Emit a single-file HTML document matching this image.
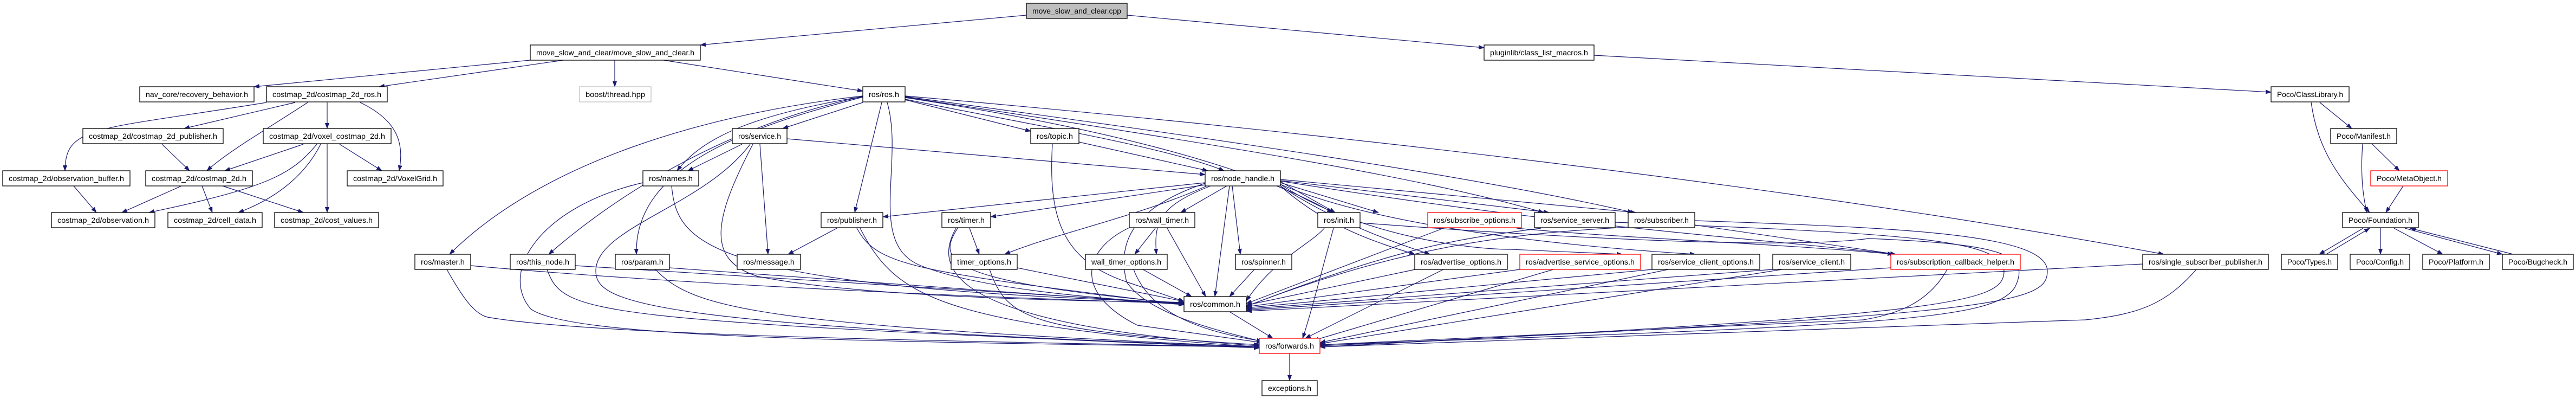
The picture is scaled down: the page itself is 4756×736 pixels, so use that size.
<!DOCTYPE html>
<html><head><meta charset="utf-8"><style>
html,body{margin:0;padding:0;background:#fff;width:4756px;height:736px;overflow:hidden}
svg{display:block}
text{font-family:"Liberation Sans",sans-serif;font-size:14px;fill:#000;text-anchor:middle}
.n{fill:#fff;stroke:#000;stroke-width:1.3}
.r{fill:#fff;stroke:#ff0000;stroke-width:1.3}
.e path{fill:none;stroke:#191970;stroke-width:1.2}
</style></head><body>
<svg width="4756" height="736" viewBox="0 0 4756 736" xmlns="http://www.w3.org/2000/svg">
<defs><marker id="a" markerUnits="userSpaceOnUse" markerWidth="11" markerHeight="8" refX="10" refY="4" orient="auto"><path d="M0,0 L11,4 L0,8 z" fill="#191970"/></marker></defs>
<g class="e" marker-end="url(#a)">
<path marker-end="url(#a)" d="M1895,28 L1293,83"/>
<path marker-end="url(#a)" d="M2081,28 L2740,88"/>
<path marker-end="url(#a)" d="M979,111 L469,160"/>
<path marker-end="url(#a)" d="M1040,111 L700,160"/>
<path marker-end="url(#a)" d="M1135,111 L1135,160"/>
<path marker-end="url(#a)" d="M1225,111 L1593,168"/>
<path marker-end="url(#a)" d="M2943,102 L4193,170"/>
<path marker-end="url(#a)" d="M492,189 C180,240 120,230 120,315"/>
<path marker-end="url(#a)" d="M545,189 L340,237"/>
<path marker-end="url(#a)" d="M568,189 C490,240 420,280 382,315"/>
<path marker-end="url(#a)" d="M604,189 L604,237"/>
<path marker-end="url(#a)" d="M665,189 C740,225 745,270 737,315"/>
<path marker-end="url(#a)" d="M299,266 L350,315"/>
<path marker-end="url(#a)" d="M560,266 L415,315"/>
<path marker-end="url(#a)" d="M585,266 C540,320 500,345 275,392"/>
<path marker-end="url(#a)" d="M592,266 C560,330 500,370 440,392"/>
<path marker-end="url(#a)" d="M604,266 L604,392"/>
<path marker-end="url(#a)" d="M627,266 L705,315"/>
<path marker-end="url(#a)" d="M136,343 L178,392"/>
<path marker-end="url(#a)" d="M335,343 L225,392"/>
<path marker-end="url(#a)" d="M373,343 L392,392"/>
<path marker-end="url(#a)" d="M411,343 L560,392"/>
<path marker-end="url(#a)" d="M1593,177 C1300,210 1000,300 830,469"/>
<path marker-end="url(#a)" d="M1593,178 C1350,230 1150,350 1013,469"/>
<path marker-end="url(#a)" d="M1593,179 C1400,230 1170,300 1175,469"/>
<path marker-end="url(#a)" d="M1593,178 C1400,210 1300,250 1250,315"/>
<path marker-end="url(#a)" d="M1593,189 L1445,237"/>
<path marker-end="url(#a)" d="M1628,189 L1578,392"/>
<path marker-end="url(#a)" d="M1638,189 C1670,300 1600,450 1700,490 C1800,530 2000,550 2186,560"/>
<path marker-end="url(#a)" d="M1671,184 L1903,242"/>
<path marker-end="url(#a)" d="M1671,183 C1900,230 2150,270 2260,315"/>
<path marker-end="url(#a)" d="M1671,180 C2000,230 2300,300 2460,392"/>
<path marker-end="url(#a)" d="M1671,179 C2200,260 2600,320 2850,392"/>
<path marker-end="url(#a)" d="M1671,178 C2200,250 2700,320 3015,392"/>
<path marker-end="url(#a)" d="M1671,177 C2400,240 3300,340 3995,469"/>
<path marker-end="url(#a)" d="M1370,266 L1270,315"/>
<path marker-end="url(#a)" d="M1453,256 L2225,322"/>
<path marker-end="url(#a)" d="M1403,266 L1418,469"/>
<path marker-end="url(#a)" d="M1390,266 C1320,400 1300,480 1400,510 C1600,550 2000,555 2186,558"/>
<path marker-end="url(#a)" d="M1385,266 C1300,380 1100,420 1100,500 C1100,560 1200,600 2325,640"/>
<path marker-end="url(#a)" d="M1240,343 C1250,450 1300,530 2186,558"/>
<path marker-end="url(#a)" d="M1187,337 C1000,380 920,500 980,570 C1050,620 1500,630 2325,640"/>
<path marker-end="url(#a)" d="M869,490 C1200,520 1700,545 2186,560"/>
<path marker-end="url(#a)" d="M825,497 C860,560 880,580 900,585 C1100,620 1800,630 2325,640"/>
<path marker-end="url(#a)" d="M1062,490 L2186,560"/>
<path marker-end="url(#a)" d="M1010,497 C1040,580 1080,590 2325,642"/>
<path marker-end="url(#a)" d="M1236,494 L2186,562"/>
<path marker-end="url(#a)" d="M1210,497 C1280,570 1400,600 2325,640"/>
<path marker-end="url(#a)" d="M1992,262 L2230,315"/>
<path marker-end="url(#a)" d="M1943,266 C1935,400 1960,480 2080,520 L2186,556"/>
<path marker-end="url(#a)" d="M2225,337 L1630,400"/>
<path marker-end="url(#a)" d="M2225,341 L1829,400"/>
<path marker-end="url(#a)" d="M2228,343 C2100,400 1950,430 1855,469"/>
<path marker-end="url(#a)" d="M2235,343 C2140,380 2130,410 2135,469"/>
<path marker-end="url(#a)" d="M2265,343 L2180,392"/>
<path marker-end="url(#a)" d="M2270,343 L2243,547"/>
<path marker-end="url(#a)" d="M2275,343 L2290,469"/>
<path marker-end="url(#a)" d="M2364,335 L2465,392"/>
<path marker-end="url(#a)" d="M2364,337 L2545,392"/>
<path marker-end="url(#a)" d="M2364,333 L2860,392"/>
<path marker-end="url(#a)" d="M2364,331 L3020,392"/>
<path marker-end="url(#a)" d="M2364,343 C2450,420 2550,450 2612,469"/>
<path marker-end="url(#a)" d="M2364,343 C2450,400 2550,440 2640,469"/>
<path marker-end="url(#a)" d="M2364,340 C2500,430 2700,460 2790,460 L2995,469"/>
<path marker-end="url(#a)" d="M2364,340 C2550,420 2900,455 3130,469"/>
<path marker-end="url(#a)" d="M2364,334 C2900,420 3250,440 3500,469"/>
<path marker-end="url(#a)" d="M2225,338 C2100,380 2060,440 2080,520 C2120,580 2250,610 2330,630"/>
<path marker-end="url(#a)" d="M1545,421 L1455,469"/>
<path marker-end="url(#a)" d="M1582,421 C1620,490 1680,500 2186,562"/>
<path marker-end="url(#a)" d="M1588,421 C1650,540 1720,600 2325,640"/>
<path marker-end="url(#a)" d="M1790,421 L1808,469"/>
<path marker-end="url(#a)" d="M1768,421 C1730,480 1740,520 2186,560"/>
<path marker-end="url(#a)" d="M1765,421 C1720,500 1760,600 2325,638"/>
<path marker-end="url(#a)" d="M2133,421 L2095,469"/>
<path marker-end="url(#a)" d="M2155,421 L2226,547"/>
<path marker-end="url(#a)" d="M2085,420 C2000,460 1980,540 2100,600 L2330,632"/>
<path marker-end="url(#a)" d="M1878,494 L2186,556"/>
<path marker-end="url(#a)" d="M1827,497 C1860,590 1900,610 2325,636"/>
<path marker-end="url(#a)" d="M2110,497 L2200,547"/>
<path marker-end="url(#a)" d="M2093,497 C2120,570 2200,610 2335,630"/>
<path marker-end="url(#a)" d="M2316,497 L2270,547"/>
<path marker-end="url(#a)" d="M2270,575 L2350,624"/>
<path marker-end="url(#a)" d="M2381,652 L2381,702"/>
<path marker-end="url(#a)" d="M2445,421 C2420,450 2350,480 2301,555"/>
<path marker-end="url(#a)" d="M2462,421 C2440,500 2420,580 2405,624"/>
<path marker-end="url(#a)" d="M2511,411 C2900,440 3300,460 3450,440 C3700,450 3750,470 3720,530 C3680,590 3500,600 2437,636"/>
<path marker-end="url(#a)" d="M2665,421 L2301,560"/>
<path marker-end="url(#a)" d="M2800,421 C3000,440 3300,450 3495,469"/>
<path marker-end="url(#a)" d="M2845,421 C2700,440 2600,450 2301,565"/>
<path marker-end="url(#a)" d="M2982,410 C3500,430 3700,440 3700,500 C3700,560 3600,580 2437,640"/>
<path marker-end="url(#a)" d="M3006,419 C2800,430 2600,450 2301,565"/>
<path marker-end="url(#a)" d="M3129,415 L3500,469"/>
<path marker-end="url(#a)" d="M3129,407 C3500,420 3780,430 3780,500 C3780,560 3700,580 2437,638"/>
<path marker-end="url(#a)" d="M2613,497 L2301,563"/>
<path marker-end="url(#a)" d="M2665,497 L2410,624"/>
<path marker-end="url(#a)" d="M2806,497 L2301,566"/>
<path marker-end="url(#a)" d="M2868,497 L2425,628"/>
<path marker-end="url(#a)" d="M3050,497 L2301,568"/>
<path marker-end="url(#a)" d="M3080,497 L2437,632"/>
<path marker-end="url(#a)" d="M3273,497 L2301,570"/>
<path marker-end="url(#a)" d="M3290,497 L2437,634"/>
<path marker-end="url(#a)" d="M3491,494 L2301,572"/>
<path marker-end="url(#a)" d="M3595,497 C3560,560 3500,580 3440,590 L2437,636"/>
<path marker-end="url(#a)" d="M3956,487 L2301,574"/>
<path marker-end="url(#a)" d="M4055,497 C4000,560 3950,580 3850,590 L2437,640"/>
<path marker-end="url(#a)" d="M4283,189 L4342,237"/>
<path marker-end="url(#a)" d="M4267,189 C4280,280 4320,330 4375,392"/>
<path marker-end="url(#a)" d="M4362,266 C4358,320 4362,360 4370,392"/>
<path marker-end="url(#a)" d="M4380,266 L4430,315"/>
<path marker-end="url(#a)" d="M4437,343 L4405,392"/>
<path marker-end="url(#a)" d="M4363,421 L4282,469"/>
<path marker-end="url(#a)" d="M4295,469 L4375,421"/>
<path marker-end="url(#a)" d="M4395,421 L4395,469"/>
<path marker-end="url(#a)" d="M4420,421 L4510,469"/>
<path marker-end="url(#a)" d="M4440,421 L4620,469"/>
<path marker-end="url(#a)" d="M4640,469 L4450,421"/>
</g>
<g>
<rect x="1895" y="6" width="186" height="28" fill="#bfbfbf" stroke="#000" stroke-width="1.3"/><text x="1988" y="25" textLength="164" lengthAdjust="spacingAndGlyphs">move_slow_and_clear.cpp</text>
<rect class="n" x="979" y="83" width="314" height="28"/><text x="1136" y="102" textLength="292" lengthAdjust="spacingAndGlyphs">move_slow_and_clear/move_slow_and_clear.h</text>
<rect class="n" x="2740" y="83" width="203" height="28"/><text x="2841.5" y="102" textLength="181" lengthAdjust="spacingAndGlyphs">pluginlib/class_list_macros.h</text>
<rect class="n" x="258" y="160" width="211" height="28"/><text x="363.5" y="179" textLength="189" lengthAdjust="spacingAndGlyphs">nav_core/recovery_behavior.h</text>
<rect class="n" x="492" y="160" width="223" height="28"/><text x="603.5" y="179" textLength="201" lengthAdjust="spacingAndGlyphs">costmap_2d/costmap_2d_ros.h</text>
<rect x="1070" y="160" width="132" height="28" fill="#fff" stroke="#bfbfbf" stroke-width="1.3"/><text x="1136" y="179" textLength="110" lengthAdjust="spacingAndGlyphs">boost/thread.hpp</text>
<rect class="n" x="1593" y="160" width="78" height="28"/><text x="1632" y="179" textLength="56" lengthAdjust="spacingAndGlyphs">ros/ros.h</text>
<rect class="n" x="4193" y="160" width="144" height="28"/><text x="4265" y="179" textLength="122" lengthAdjust="spacingAndGlyphs">Poco/ClassLibrary.h</text>
<rect class="n" x="153" y="237" width="259" height="28"/><text x="282.5" y="256" textLength="237" lengthAdjust="spacingAndGlyphs">costmap_2d/costmap_2d_publisher.h</text>
<rect class="n" x="486" y="237" width="236" height="28"/><text x="604" y="256" textLength="214" lengthAdjust="spacingAndGlyphs">costmap_2d/voxel_costmap_2d.h</text>
<rect class="n" x="1352" y="237" width="101" height="28"/><text x="1402.5" y="256" textLength="79" lengthAdjust="spacingAndGlyphs">ros/service.h</text>
<rect class="n" x="1903" y="237" width="89" height="28"/><text x="1947.5" y="256" textLength="67" lengthAdjust="spacingAndGlyphs">ros/topic.h</text>
<rect class="n" x="4303" y="237" width="122" height="28"/><text x="4364" y="256" textLength="100" lengthAdjust="spacingAndGlyphs">Poco/Manifest.h</text>
<rect class="n" x="5" y="315" width="235" height="28"/><text x="122.5" y="334" textLength="213" lengthAdjust="spacingAndGlyphs">costmap_2d/observation_buffer.h</text>
<rect class="n" x="269" y="315" width="197" height="28"/><text x="367.5" y="334" textLength="175" lengthAdjust="spacingAndGlyphs">costmap_2d/costmap_2d.h</text>
<rect class="n" x="641" y="315" width="177" height="28"/><text x="729.5" y="334" textLength="155" lengthAdjust="spacingAndGlyphs">costmap_2d/VoxelGrid.h</text>
<rect class="n" x="1187" y="315" width="103" height="28"/><text x="1238.5" y="334" textLength="81" lengthAdjust="spacingAndGlyphs">ros/names.h</text>
<rect class="n" x="2225" y="315" width="139" height="28"/><text x="2294.5" y="334" textLength="117" lengthAdjust="spacingAndGlyphs">ros/node_handle.h</text>
<rect class="r" x="4377" y="315" width="142" height="28"/><text x="4448" y="334" textLength="120" lengthAdjust="spacingAndGlyphs">Poco/MetaObject.h</text>
<rect class="n" x="95" y="392" width="191" height="28"/><text x="190.5" y="411" textLength="169" lengthAdjust="spacingAndGlyphs">costmap_2d/observation.h</text>
<rect class="n" x="310" y="392" width="174" height="28"/><text x="397" y="411" textLength="152" lengthAdjust="spacingAndGlyphs">costmap_2d/cell_data.h</text>
<rect class="n" x="507" y="392" width="192" height="28"/><text x="603" y="411" textLength="170" lengthAdjust="spacingAndGlyphs">costmap_2d/cost_values.h</text>
<rect class="n" x="1516" y="392" width="114" height="28"/><text x="1573" y="411" textLength="92" lengthAdjust="spacingAndGlyphs">ros/publisher.h</text>
<rect class="n" x="1739" y="392" width="90" height="28"/><text x="1784" y="411" textLength="68" lengthAdjust="spacingAndGlyphs">ros/timer.h</text>
<rect class="n" x="2085" y="392" width="121" height="28"/><text x="2145.5" y="411" textLength="99" lengthAdjust="spacingAndGlyphs">ros/wall_timer.h</text>
<rect class="n" x="2433" y="392" width="78" height="28"/><text x="2472" y="411" textLength="56" lengthAdjust="spacingAndGlyphs">ros/init.h</text>
<rect class="r" x="2636" y="392" width="173" height="28"/><text x="2722.5" y="411" textLength="151" lengthAdjust="spacingAndGlyphs">ros/subscribe_options.h</text>
<rect class="n" x="2833" y="392" width="149" height="28"/><text x="2907.5" y="411" textLength="127" lengthAdjust="spacingAndGlyphs">ros/service_server.h</text>
<rect class="n" x="3006" y="392" width="123" height="28"/><text x="3067.5" y="411" textLength="101" lengthAdjust="spacingAndGlyphs">ros/subscriber.h</text>
<rect class="n" x="4325" y="392" width="140" height="28"/><text x="4395" y="411" textLength="118" lengthAdjust="spacingAndGlyphs">Poco/Foundation.h</text>
<rect class="n" x="766" y="469" width="103" height="28"/><text x="817.5" y="488" textLength="81" lengthAdjust="spacingAndGlyphs">ros/master.h</text>
<rect class="n" x="942" y="469" width="120" height="28"/><text x="1002" y="488" textLength="98" lengthAdjust="spacingAndGlyphs">ros/this_node.h</text>
<rect class="n" x="1136" y="469" width="100" height="28"/><text x="1186" y="488" textLength="78" lengthAdjust="spacingAndGlyphs">ros/param.h</text>
<rect class="n" x="1361" y="469" width="117" height="28"/><text x="1419.5" y="488" textLength="95" lengthAdjust="spacingAndGlyphs">ros/message.h</text>
<rect class="n" x="1756" y="469" width="122" height="28"/><text x="1817" y="488" textLength="100" lengthAdjust="spacingAndGlyphs">timer_options.h</text>
<rect class="n" x="2004" y="469" width="151" height="28"/><text x="2079.5" y="488" textLength="129" lengthAdjust="spacingAndGlyphs">wall_timer_options.h</text>
<rect class="n" x="2281" y="469" width="104" height="28"/><text x="2333" y="488" textLength="82" lengthAdjust="spacingAndGlyphs">ros/spinner.h</text>
<rect class="n" x="2612" y="469" width="171" height="28"/><text x="2697.5" y="488" textLength="149" lengthAdjust="spacingAndGlyphs">ros/advertise_options.h</text>
<rect class="r" x="2806" y="469" width="223" height="28"/><text x="2917.5" y="488" textLength="201" lengthAdjust="spacingAndGlyphs">ros/advertise_service_options.h</text>
<rect class="n" x="3050" y="469" width="199" height="28"/><text x="3149.5" y="488" textLength="177" lengthAdjust="spacingAndGlyphs">ros/service_client_options.h</text>
<rect class="n" x="3273" y="469" width="144" height="28"/><text x="3345" y="488" textLength="122" lengthAdjust="spacingAndGlyphs">ros/service_client.h</text>
<rect class="r" x="3491" y="469" width="239" height="28"/><text x="3610.5" y="488" textLength="217" lengthAdjust="spacingAndGlyphs">ros/subscription_callback_helper.h</text>
<rect class="n" x="3956" y="469" width="232" height="28"/><text x="4072" y="488" textLength="210" lengthAdjust="spacingAndGlyphs">ros/single_subscriber_publisher.h</text>
<rect class="n" x="4212" y="469" width="104" height="28"/><text x="4264" y="488" textLength="82" lengthAdjust="spacingAndGlyphs">Poco/Types.h</text>
<rect class="n" x="4339" y="469" width="110" height="28"/><text x="4394" y="488" textLength="88" lengthAdjust="spacingAndGlyphs">Poco/Config.h</text>
<rect class="n" x="4473" y="469" width="123" height="28"/><text x="4534.5" y="488" textLength="101" lengthAdjust="spacingAndGlyphs">Poco/Platform.h</text>
<rect class="n" x="4620" y="469" width="131" height="28"/><text x="4685.5" y="488" textLength="109" lengthAdjust="spacingAndGlyphs">Poco/Bugcheck.h</text>
<rect class="n" x="2186" y="547" width="115" height="28"/><text x="2243.5" y="566" textLength="93" lengthAdjust="spacingAndGlyphs">ros/common.h</text>
<rect class="r" x="2325" y="624" width="112" height="28"/><text x="2381" y="643" textLength="90" lengthAdjust="spacingAndGlyphs">ros/forwards.h</text>
<rect class="n" x="2330" y="702" width="102" height="28"/><text x="2381" y="721" textLength="80" lengthAdjust="spacingAndGlyphs">exceptions.h</text>
</g>
</svg>
</body></html>
